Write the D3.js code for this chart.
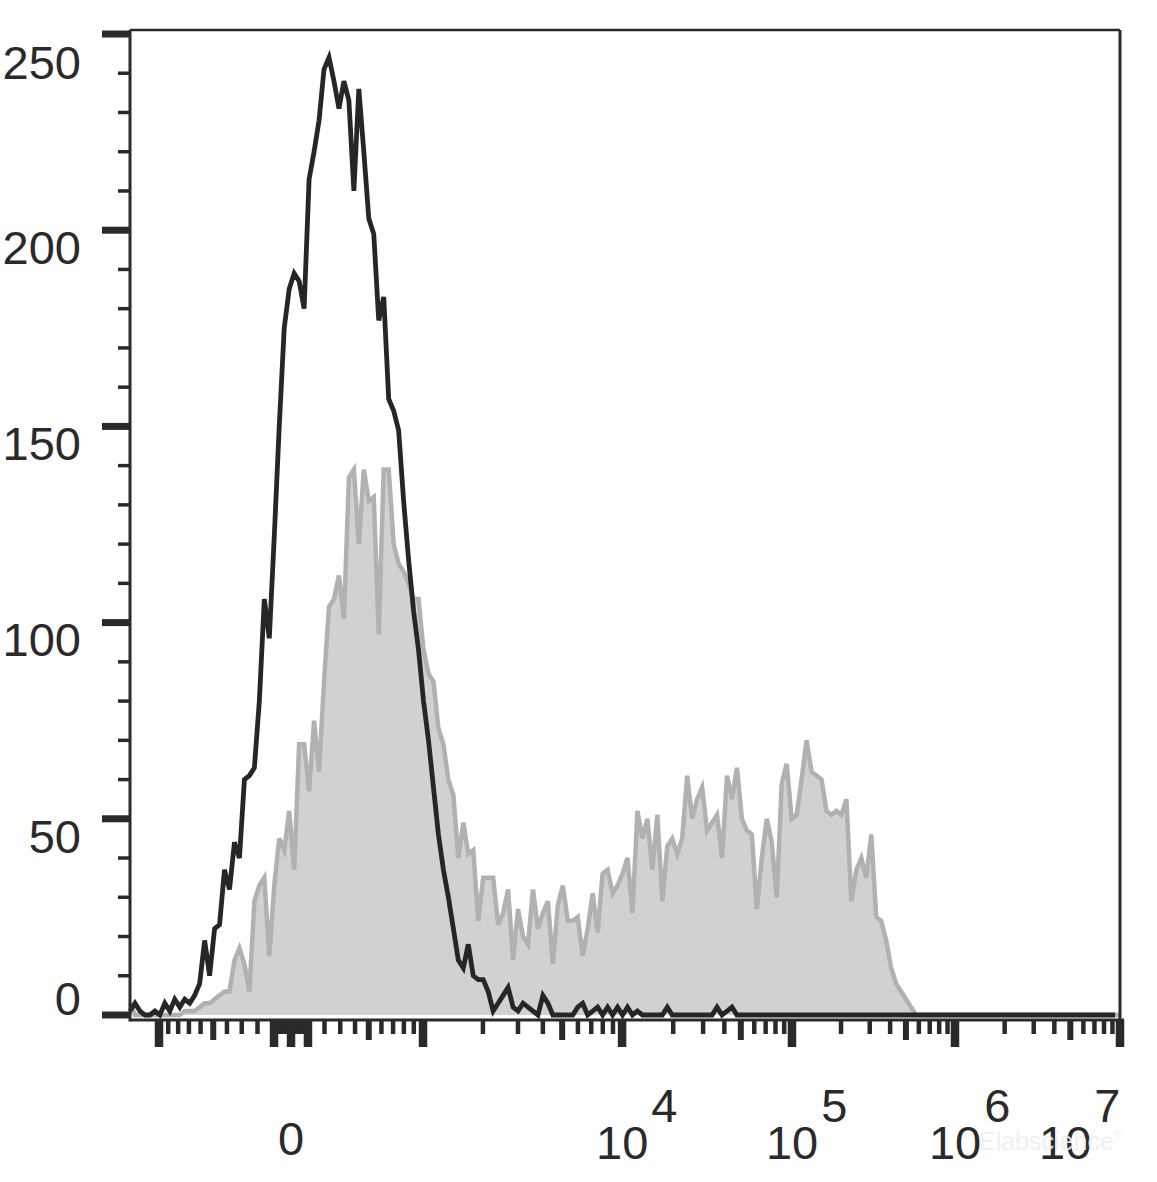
<!DOCTYPE html>
<html><head><meta charset="utf-8">
<script src="https://cdn.jsdelivr.net/npm/d3@7"></script>
<style>body{margin:0;background:#fff}svg{display:block}</style>
</head><body>
<svg id="c" width="1157" height="1182"></svg>
<script>
// Histogram counts per display channel (uniform in display space, left edge to right edge)
const grayCounts = [3,0,0,0,0,0,0,0,0,0,0,1,1,1,2,3,3,4,5,6,6,14,17,13,6,29,33,35,15,33,45,42,52,37,69,69,57,75,62,85,104,106,112,101,137,139,120,139,131,132,97,139,139,120,115,113,110,106,106,93,87,85,73,69,60,56,40,49,41,42,24,35,35,35,23,26,32,14,27,20,18,32,22,26,29,13,28,33,24,24,25,15,22,31,21,36,37,31,33,36,40,26,52,45,50,37,51,29,43,45,41,45,61,50,55,58,47,49,51,40,61,55,63,50,47,46,27,40,50,44,30,59,64,50,51,60,70,62,61,60,52,51,52,51,55,29,37,40,35,46,25,24,19,12,8,6,4,2,0,0,0,0,0,0,0,0,0,0,0,0,0,0,0,0,0,0,0,0,0,0,0,0,0,0,0,0,0,0,0,0,0,0,0,0,0,0,0,0,0,0];
const blackCounts = [1,3,1,0,0,1,0,3,1,4,2,4,3,5,8,19,10,22,23,37,32,44,40,60,61,63,80,106,96,122,150,175,185,189,187,180,213,220,228,241,244,238,231,238,233,210,236,220,203,199,177,183,157,154,149,131,116,103,93,80,70,58,46,37,30,22,14,12,18,10,9,9,6,1,3,5,7,2,1,3,2,1,0,5,3,0,0,0,0,0,2,3,0,1,2,0,2,0,2,0,2,0,1,0,0,0,0,0,2,0,0,0,0,0,0,0,0,0,2,0,1,2,0,0,0,0,0,0,0,0,0,0,0,0,0,0,0,0,0,0,0,0,0,0,0,0,0,0,0,0,0,0,0,0,0,0,0,0,0,0,0,0,0,0,0,0,0,0,0,0,0,0,0,0,0,0,0,0,0,0,0,0,0,0,0,0,0,0,0,0,0,0,0,0,0,0,0,0,0];

// Axis tick definitions
const yTickValues = [0, 50, 100, 150, 200, 250];
const yMinorStep = 10;
const xMajorTicks = [-1000, -100, 0, 100, 1000, 1e4, 1e5, 1e6, 1e7];
const xMediumTicks = [-500, 500, 5e3, 5e4, 5e5, 5e6];
const xLinearMinorSteps = [10, 20, 30, 40, 50, 60, 70, 80, 90, 200, 300, 400, 600, 700, 800, 900];
const xDecadeMinorMultipliers = [2, 3, 4, 6, 7, 8, 9];
const xDecades = [1e3, 1e4, 1e5, 1e6];
const xLabelTicks = [0, 1e4, 1e5, 1e6, 1e7];
// biexponential display: decade exponent -> display units
const decadeExponents = [3, 4, 5, 6, 7];
const decadeUnits = [1, 2.508, 3.795, 5.03, 6.28];

const W = 1157, H = 1182;
const L = 130, R = 1120, T = 30, B = 1020;
const ink = "#2a2a2a";
const font = "'Liberation Sans', Arial, sans-serif";
const svg = d3.select("#c");

const y = d3.scaleLinear().domain([0, 250]).range([1015, 34]);
const linW = 610, linNorm = Math.asinh(1000 / linW);
const logPart = d3.scaleLinear().domain(decadeExponents).range(decadeUnits);
function biex(v) {
  const a = Math.abs(v), s = Math.sign(v);
  if (a <= 1000) return s * Math.asinh(a / linW) / linNorm;
  return s * logPart(Math.log10(a));
}
const x = d3.scaleLinear().domain([-1.2197, 6.28]).range([L, R]);
const ch = d3.scaleLinear().domain([0, grayCounts.length - 1]).range([L, R]);

// gray filled histogram
const area = d3.area().x((d, i) => ch(i)).y0(y(0)).y1(d => y(d));
const line = d3.line().x((d, i) => ch(i)).y(d => y(d));
svg.append("path").attr("d", area(grayCounts)).attr("fill", "#d1d1d1");
svg.append("path").attr("d", line(grayCounts)).attr("fill", "none")
  .attr("stroke", "#b1b1b3").attr("stroke-width", 4.5).attr("stroke-linejoin", "miter");
// black histogram line
svg.append("path").attr("d", line(blackCounts)).attr("fill", "none")
  .attr("stroke", "#262626").attr("stroke-width", 4.8).attr("stroke-linejoin", "miter");

// frame
const frame = svg.append("g").attr("stroke", ink).attr("fill", "none");
frame.append("line").attr("x1", L).attr("x2", R).attr("y1", T).attr("y2", T).attr("stroke-width", 2.5);
frame.append("line").attr("x1", R).attr("x2", R).attr("y1", T).attr("y2", B).attr("stroke-width", 3);
frame.append("line").attr("x1", L).attr("x2", L).attr("y1", T).attr("y2", B + 1.5).attr("stroke-width", 3);
frame.append("line").attr("x1", L).attr("x2", R + 4).attr("y1", B).attr("y2", B).attr("stroke-width", 3);

// y ticks
const yMinor = d3.range(0, 251, yMinorStep).filter(v => !yTickValues.includes(v));
svg.append("g").selectAll("line").data(yMinor).join("line")
  .attr("x1", 118).attr("x2", L).attr("y1", d => y(d)).attr("y2", d => y(d))
  .attr("stroke", ink).attr("stroke-width", 3.5);
svg.append("g").selectAll("line").data(yTickValues).join("line")
  .attr("x1", 102).attr("x2", L).attr("y1", d => y(d)).attr("y2", d => y(d))
  .attr("stroke", ink).attr("stroke-width", 7);
svg.append("g").selectAll("text").data(yTickValues).join("text")
  .attr("x", 81)
  .attr("y", (d, i) => y(d) + (i === 0 ? -17 : (i === yTickValues.length - 1 ? 28 : 17)) + 16.8)
  .attr("text-anchor", "end").attr("font-family", font).attr("font-size", 47)
  .attr("fill", ink).text(d => d);

// x ticks
const xMinor = [];
xLinearMinorSteps.forEach(v => { xMinor.push(v); xMinor.push(-v); });
xDecades.forEach(d => xDecadeMinorMultipliers.forEach(m => xMinor.push(m * d)));
svg.append("g").selectAll("line").data(xMinor).join("line")
  .attr("x1", d => x(biex(d))).attr("x2", d => x(biex(d)))
  .attr("y1", B).attr("y2", 1034).attr("stroke", ink).attr("stroke-width", 4.5);
svg.append("g").selectAll("line").data(xMediumTicks).join("line")
  .attr("x1", d => x(biex(d))).attr("x2", d => x(biex(d)))
  .attr("y1", B).attr("y2", 1040).attr("stroke", ink).attr("stroke-width", 6);
svg.append("g").selectAll("line").data(xMajorTicks).join("line")
  .attr("x1", d => x(biex(d))).attr("x2", d => x(biex(d)))
  .attr("y1", B).attr("y2", 1047).attr("stroke", ink).attr("stroke-width", 8.5);

// x labels
const lab = svg.append("g").attr("font-family", font).attr("font-size", 47).attr("fill", ink);
xLabelTicks.forEach(v => {
  const px = x(biex(v));
  if (v === 0) {
    lab.append("text").attr("x", px).attr("y", 1155).attr("text-anchor", "middle").text("0");
  } else {
    const e = Math.round(Math.log10(v));
    const cx = Math.min(px, W - 92);
    const t = lab.append("text").attr("x", cx - 26).attr("y", 1159);
    t.append("tspan").text("10");
    t.append("tspan").attr("dx", 3).attr("dy", -37).text(e);
  }
});

// watermark
const wm = svg.append("text").attr("x", 979).attr("y", 1150).attr("font-family", font)
  .attr("font-size", 25).attr("fill", "#efefef").attr("opacity", 0.92);
wm.append("tspan").text("Elabscience");
wm.append("tspan").attr("font-size", 11).attr("dy", -12).text("®");
</script>
</body></html>
